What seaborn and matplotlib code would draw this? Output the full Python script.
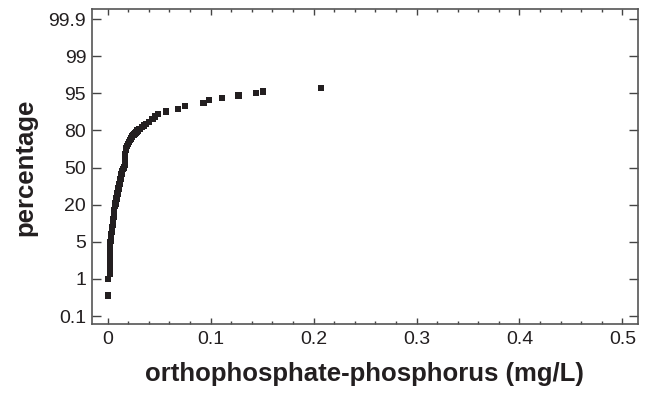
import numpy as np
import pandas as pd
import matplotlib
matplotlib.use('Agg')
from matplotlib import pyplot as plt
from matplotlib.ticker import MultipleLocator, FixedLocator, FixedFormatter, FuncFormatter
import seaborn as sns

# probability axis tick labels (equally spaced in the original)
pct_ticks = [0.1, 1, 5, 20, 50, 80, 95, 99, 99.9]
pct_labels = ['0.1', '1', '5', '20', '50', '80', '95', '99', '99.9']

# orthophosphate-phosphorus (mg/L) vs cumulative percentage
conc = [0.0000, 0.0005, 0.002, 0.002, 0.002, 0.002, 0.002, 0.002, 0.002, 0.0025,
        0.003, 0.003, 0.003, 0.0035, 0.004, 0.004, 0.0045, 0.005, 0.005, 0.0055,
        0.006, 0.006, 0.0065, 0.007, 0.0075, 0.008, 0.0085, 0.009, 0.0095, 0.010,
        0.0105, 0.011, 0.0115, 0.012, 0.0125, 0.013, 0.0135, 0.014, 0.015, 0.016,
        0.017, 0.017, 0.017, 0.017, 0.0175, 0.018, 0.019, 0.020, 0.021, 0.022,
        0.023, 0.024, 0.025, 0.026, 0.027, 0.028, 0.029, 0.031, 0.033, 0.035,
        0.037, 0.040, 0.0435, 0.046, 0.0487, 0.0567, 0.068, 0.0754, 0.093, 0.0986,
        0.111, 0.127, 0.144, 0.151, 0.2073]
percent = [0.6, 1.0, 1.5, 2.0, 2.5, 3.0, 3.5, 4.0, 4.5, 5.0,
           5.5, 6.0, 7.0, 8.0, 9.0, 10.0, 11.0, 12.0, 13.0, 14.0,
           15.0, 16.5, 18.0, 19.5, 21.0, 23.0, 25.0, 27.0, 29.0, 31.0,
           33.0, 35.0, 37.0, 39.0, 41.0, 43.0, 45.0, 47.0, 48.5, 50.0,
           52.0, 55.0, 58.0, 61.0, 64.0, 66.0, 67.5, 69.0, 70.5, 72.0,
           73.5, 75.0, 76.0, 77.0, 78.0, 79.0, 80.0, 80.7, 81.4, 82.0,
           82.6, 83.5, 84.6, 85.6, 86.6, 87.6, 88.8, 90.0, 91.0, 92.3,
           93.0, 94.1, 95.0, 95.2, 95.6]

df = pd.DataFrame({'conc': conc, 'percent': percent})

# piecewise-linear probability scale so that the ticks are evenly spaced
tp = np.array(pct_ticks, dtype=float)
ti = np.arange(len(tp), dtype=float)

def fwd(v):
    v = np.asarray(v, dtype=float)
    out = np.interp(v, tp, ti)
    lo = v < tp[0]
    hi = v > tp[-1]
    out = np.where(lo, (v - tp[0]) / (tp[1] - tp[0]), out)
    out = np.where(hi, ti[-1] + (v - tp[-1]) / (tp[-1] - tp[-2]), out)
    return out

def inv(i):
    i = np.asarray(i, dtype=float)
    out = np.interp(i, ti, tp)
    out = np.where(i < 0, tp[0] + i * (tp[1] - tp[0]), out)
    out = np.where(i > ti[-1], tp[-1] + (i - ti[-1]) * (tp[-1] - tp[-2]), out)
    return out

sns.set_style('ticks')
plt.rcParams['font.family'] = ['Liberation Sans', 'DejaVu Sans']

fig = plt.figure(figsize=(6.45, 3.98), dpi=100)
ax = fig.add_axes([0.1422, 0.185, 0.8470, 0.7916])

sns.scatterplot(data=df, x='conc', y='percent', marker='s', s=20,
                color='#231f20', edgecolor='none', linewidth=0, ax=ax)

ax.set_yscale('function', functions=(fwd, inv))
ax.set_xlim(-0.0155, 0.5152)
ax.set_ylim(inv(-0.224), inv(8.261))

ax.yaxis.set_major_locator(FixedLocator(pct_ticks))
ax.yaxis.set_major_formatter(FixedFormatter(pct_labels))
ax.yaxis.set_minor_locator(FixedLocator([]))
ax.xaxis.set_major_locator(MultipleLocator(0.1))
ax.xaxis.set_minor_locator(MultipleLocator(0.02))
ax.xaxis.set_major_formatter(FuncFormatter(lambda v, p: f'{round(v, 3):g}'))

ax.tick_params(axis='both', which='both', direction='in', top=True, right=True,
               colors='#444444', labelcolor='#231f20', labelsize=14, width=1)
ax.tick_params(axis='y', which='major', length=6.5, pad=4)
ax.tick_params(axis='x', which='major', length=4, pad=5)
ax.tick_params(axis='x', which='minor', length=2)

for sp in ax.spines.values():
    sp.set_color('#555555')
    sp.set_linewidth(1.2)

ax.set_xlabel('orthophosphate-phosphorus (mg/L)', fontsize=18.5,
              fontweight='bold', color='#231f20', labelpad=10)
ax.set_ylabel('percentage', fontsize=18.5, fontweight='bold',
              color='#231f20', labelpad=8)

plt.savefig('out.png', dpi=100)
